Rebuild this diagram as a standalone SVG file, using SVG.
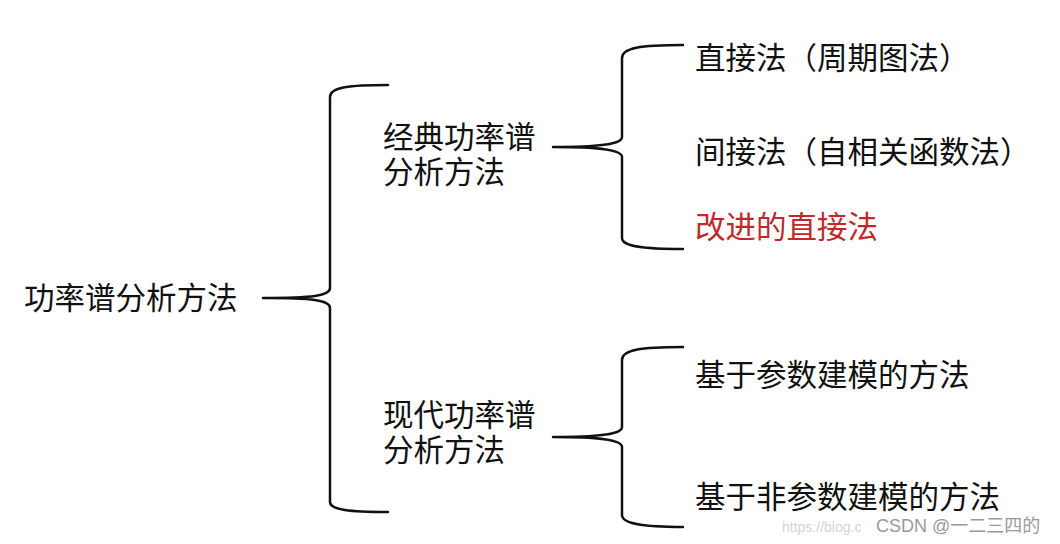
<svg xmlns="http://www.w3.org/2000/svg" width="1060" height="544" viewBox="0 0 1060 544">
<style>
.t{font-family:"Noto Sans CJK SC","Noto Sans",sans-serif;font-size:30.5px;fill:#111}
.red{fill:#c0282a}
.br{fill:none;stroke:#111;stroke-width:2.5;stroke-linecap:round}
.wm{font-family:"Liberation Sans","Noto Sans CJK SC",sans-serif}
</style>
<rect width="1060" height="544" fill="#fff"/>
<g id="connectors">
<path class="br" d="M388,85 C350,85 330,87 330,97 L330,288 C330,296 312,298 263,298 M263,298 C312,298 330,300 330,308 L330,502 C330,510 350,512 388,512"/>
<path class="br" d="M683,45 C640,45 622,48 622,58 L622,137 C622,144 602,147 553,147 M553,147 C602,147 622,150 622,157 L622,238 C622,246 640,249 683,249"/>
<path class="br" d="M683,347 C640,347 622,350 622,360 L622,427 C622,434 602,437 553,437 M553,437 C602,437 622,440 622,447 L622,515 C622,523 640,527 683,527"/>
</g>
<g id="root"><text class="t" x="24" y="309">功率谱分析方法</text></g>
<g id="classic"><text class="t" x="383" y="148">经典功率谱<tspan x="383" dy="35">分析方法</tspan></text></g>
<g id="modern"><text class="t" x="383" y="426">现代功率谱<tspan x="383" dy="35">分析方法</tspan></text></g>
<g id="direct"><text class="t" x="695" y="69">直接法（周期图法）</text></g>
<g id="indirect"><text class="t" x="695" y="163">间接法（自相关函数法）</text></g>
<g id="improved"><text class="t red" x="695" y="238">改进的直接法</text></g>
<g id="param"><text class="t" x="695" y="386">基于参数建模的方法</text></g>
<g id="nonparam"><text class="t" x="695" y="508">基于非参数建模的方法</text></g>
<g id="watermark">
<text class="wm" x="782" y="532" fill="#d4d4d4" font-size="14">https://blog.c</text>
<text class="wm" x="876" y="532" fill="#9a9a9a" font-size="18">CSDN @一二三四的</text>
</g>
</svg>
